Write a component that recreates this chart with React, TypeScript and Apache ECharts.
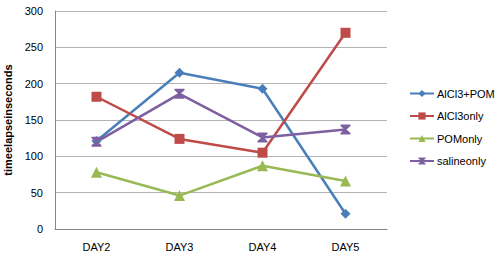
import React, { useEffect, useRef } from "react";
import * as echarts from "echarts";

const categories = ["DAY2", "DAY3", "DAY4", "DAY5"];
const alcl3Pom = [121, 215, 193, 21];
const alcl3Only = [182, 124, 105, 270];
const pomOnly = [78, 46, 87, 66];
const salineOnly = [120, 186, 126, 137];
const yTicks = { min: 0, max: 300, interval: 50 };

const hourglass = "path://M0,0 L10,0 L10,1.5 L6,5 L10,8.5 L10,10 L0,10 L0,8.5 L4,5 L0,1.5 Z";

export default function App() {
  const ref = useRef<HTMLDivElement>(null);
  useEffect(() => {
    if (!ref.current) return;
    const chart = echarts.init(ref.current, null, { renderer: "svg" });
    const font = "'Liberation Sans', Arial, sans-serif";
    const mk = (name: string, data: number[], color: string, symbol: string, size: number) => ({
      name,
      type: "line",
      data,
      symbol,
      symbolSize: size,
      lineStyle: { color, width: 2.5 },
      itemStyle: { color },
    });
    chart.setOption({
      animation: false,
      textStyle: { fontFamily: font },
      grid: { left: 55, right: 113, top: 11, bottom: 30, outerBoundsMode: "none", containLabel: false },
      legend: {
        orient: "vertical",
        left: 404,
        top: 83,
        padding: 5,
        itemWidth: 24,
        itemHeight: 9,
        itemGap: 11.5,
        textStyle: { fontSize: 11, color: "#000", fontFamily: font, padding: [0, 0, 0, -2] },
        data: ["AlCl3+POM", "AlCl3only", "POMonly", "salineonly"],
      },
      xAxis: {
        type: "category",
        data: categories,
        boundaryGap: true,
        axisLine: { lineStyle: { color: "#868686", width: 1 } },
        axisTick: { show: false },
        axisLabel: { color: "#000", fontSize: 11, margin: 12, fontFamily: font },
        splitLine: { show: false },
      },
      yAxis: {
        type: "value",
        min: yTicks.min,
        max: yTicks.max,
        interval: yTicks.interval,
        name: "timeelapseinseconds",
        nameLocation: "middle",
        nameGap: 38,
        nameTextStyle: { fontSize: 11, fontWeight: "bold", color: "#000", fontFamily: font },
        axisLine: { show: true, lineStyle: { color: "#868686", width: 1 } },
        axisTick: { show: false },
        axisLabel: { color: "#000", fontSize: 11, margin: 12, fontFamily: font },
        splitLine: { lineStyle: { color: "#b3b3b3", width: 1 } },
      },
      series: [
        mk("AlCl3+POM", alcl3Pom, "#4A7EBB", "diamond", 10),
        mk("AlCl3only", alcl3Only, "#BE4B48", "rect", 10),
        mk("POMonly", pomOnly, "#98B954", "triangle", 11),
        mk("salineonly", salineOnly, "#7D60A0", hourglass, 10),
      ],
    });
    return () => chart.dispose();
  }, []);
  return (
    <div
      ref={ref}
      style={{ position: "fixed", left: 0, top: 0, width: 500, height: 259, background: "#fff" }}
    />
  );
}
